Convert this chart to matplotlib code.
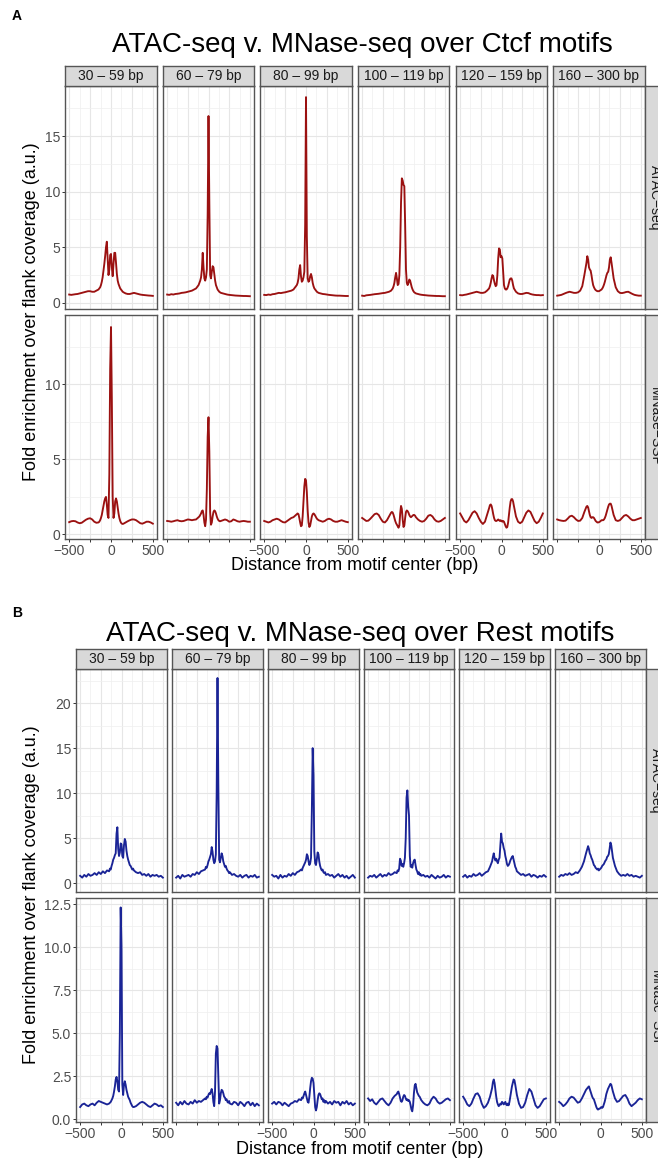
import numpy as np
import matplotlib.pyplot as plt

plt.rcParams['font.family'] = ['Liberation Sans', 'DejaVu Sans']

# ---- data -------------------------------------------------------------
POSITIONS = [-500, -475, -450, -425, -400, -375, -350, -325, -300, -275, -250, -225, -200, -175,
             -150, -140, -130, -120, -110, -100, -90, -80, -70, -60, -50, -40, -30, -20, -10,
             0, 10, 20, 30, 40, 50, 60, 70, 80, 90, 100, 110, 120, 130, 140, 150,
             175, 200, 225, 250, 275, 300, 325, 350, 375, 400, 425, 450, 475, 500]

SIZE_BINS = ["30 \u2013 59 bp", "60 \u2013 79 bp", "80 \u2013 99 bp",
             "100 \u2013 119 bp", "120 \u2013 159 bp", "160 \u2013 300 bp"]
ASSAYS = ["ATAC\u2212seq", "MNase\u2212SSP"]

# Ctcf, ATAC-seq
ctcf_atac_30_59 = [0.75, 0.72, 0.75, 0.78, 0.80, 0.85, 0.90, 0.95, 1.00, 1.05, 1.05, 1.00, 1.00, 1.10,
                   1.20, 1.30, 1.40, 1.60, 1.90, 2.30, 2.90, 3.50, 4.20, 5.00, 5.50, 4.00, 2.50, 3.00, 4.30,
                   4.40, 3.20, 2.40, 3.50, 4.50, 4.50, 3.60, 2.60, 2.00, 1.70, 1.50, 1.30, 1.20, 1.10, 1.00, 0.95,
                   0.85, 0.80, 0.80, 0.85, 0.90, 0.85, 0.80, 0.75, 0.72, 0.70, 0.68, 0.66, 0.65, 0.63]
ctcf_atac_60_79 = [0.75, 0.72, 0.78, 0.75, 0.80, 0.82, 0.85, 0.90, 0.92, 0.95, 1.00, 1.05, 1.10, 1.20,
                   1.30, 1.40, 1.50, 1.60, 1.80, 2.00, 2.30, 3.00, 4.50, 3.20, 2.20, 2.00, 2.30, 3.00, 8.00,
                   16.8, 9.00, 2.50, 2.20, 2.80, 3.30, 3.20, 2.60, 2.00, 1.60, 1.40, 1.20, 1.10, 1.00, 0.95, 0.90,
                   0.85, 0.80, 0.75, 0.72, 0.70, 0.68, 0.66, 0.65, 0.64, 0.63, 0.62, 0.62, 0.61, 0.60]
ctcf_atac_80_99 = [0.72, 0.70, 0.75, 0.72, 0.78, 0.80, 0.85, 0.90, 0.88, 0.92, 0.95, 1.00, 1.05, 1.10,
                   1.20, 1.30, 1.40, 1.50, 1.60, 1.80, 2.20, 3.00, 3.40, 2.40, 1.90, 2.00, 2.30, 2.80, 7.00,
                   18.5, 6.00, 2.20, 1.90, 2.00, 2.40, 2.60, 2.30, 1.80, 1.50, 1.30, 1.20, 1.10, 1.00, 0.95, 0.90,
                   0.85, 0.80, 0.78, 0.75, 0.72, 0.70, 0.68, 0.66, 0.65, 0.65, 0.64, 0.63, 0.62, 0.62]
ctcf_atac_100_119 = [0.65, 0.62, 0.68, 0.70, 0.72, 0.75, 0.78, 0.80, 0.82, 0.85, 0.88, 0.90, 0.95, 1.00,
                     1.10, 1.20, 1.30, 1.50, 1.80, 2.30, 2.70, 2.20, 1.60, 1.70, 2.50, 5.00, 9.00, 11.2, 11.0,
                     10.6, 10.5, 7.00, 3.00, 1.80, 1.60, 1.80, 2.10, 2.00, 1.70, 1.40, 1.20, 1.05, 0.95, 0.90, 0.85,
                     0.80, 0.75, 0.72, 0.70, 0.68, 0.66, 0.65, 0.64, 0.63, 0.62, 0.62, 0.61, 0.60, 0.60]
ctcf_atac_120_159 = [0.70, 0.68, 0.72, 0.75, 0.80, 0.85, 0.90, 0.95, 1.00, 0.95, 0.90, 0.90, 0.95, 1.10,
                     1.30, 1.50, 1.80, 2.20, 2.50, 2.40, 2.00, 1.70, 1.50, 1.60, 2.50, 4.00, 4.90, 4.80, 4.10,
                     4.20, 4.00, 2.80, 1.60, 1.30, 1.20, 1.20, 1.30, 1.50, 1.80, 2.10, 2.20, 2.20, 2.00, 1.60, 1.30,
                     1.00, 0.85, 0.80, 0.80, 0.85, 0.90, 0.88, 0.80, 0.75, 0.72, 0.70, 0.70, 0.68, 0.70]
ctcf_atac_160_300 = [0.65, 0.68, 0.72, 0.80, 0.88, 0.95, 1.00, 0.95, 0.90, 0.90, 0.95, 1.10, 1.50, 2.50,
                     3.60, 4.20, 3.90, 3.20, 3.00, 2.90, 2.50, 2.00, 1.60, 1.40, 1.25, 1.15, 1.10, 1.05, 1.05,
                     1.05, 1.10, 1.15, 1.20, 1.30, 1.45, 1.65, 1.90, 2.20, 2.50, 2.70, 2.80, 3.20, 3.90, 4.10, 3.60,
                     2.20, 1.40, 1.05, 0.90, 0.88, 0.92, 0.98, 1.00, 0.90, 0.80, 0.72, 0.68, 0.65, 0.65]

# Ctcf, MNase-SSP
ctcf_mnase_30_59 = [0.82, 0.88, 0.90, 0.88, 0.80, 0.75, 0.78, 0.88, 0.98, 1.05, 1.08, 1.00, 0.85, 0.78,
                    0.80, 0.85, 0.95, 1.10, 1.30, 1.60, 1.90, 2.20, 2.40, 2.50, 2.00, 1.30, 1.10, 4.00, 11.0,
                    13.8, 9.00, 2.50, 1.10, 1.40, 2.20, 2.40, 2.20, 1.80, 1.40, 1.10, 0.90, 0.78, 0.72, 0.70, 0.72,
                    0.80, 0.88, 0.95, 1.00, 1.00, 0.95, 0.85, 0.75, 0.72, 0.78, 0.85, 0.85, 0.80, 0.72]
ctcf_mnase_60_79 = [0.90, 0.88, 0.85, 0.88, 0.92, 0.95, 0.90, 0.88, 0.90, 0.95, 1.00, 0.98, 0.95, 0.98,
                    1.00, 1.05, 1.10, 1.15, 1.20, 1.30, 1.40, 1.55, 1.60, 1.30, 0.80, 0.55, 1.00, 3.00, 6.50,
                    7.80, 5.50, 1.50, 0.65, 0.80, 1.20, 1.50, 1.60, 1.55, 1.40, 1.20, 1.05, 0.95, 0.90, 0.88, 0.90,
                    0.95, 1.00, 0.95, 0.85, 0.88, 1.00, 0.95, 0.88, 0.85, 0.88, 0.90, 0.88, 0.85, 0.85]
ctcf_mnase_80_99 = [0.90, 0.85, 0.80, 0.85, 0.95, 1.00, 1.05, 1.00, 0.90, 0.82, 0.80, 0.90, 1.00, 1.10,
                    1.15, 1.20, 1.25, 1.30, 1.35, 1.40, 1.35, 1.10, 0.80, 0.55, 0.60, 1.20, 2.20, 3.20, 3.70,
                    3.60, 2.80, 1.60, 0.80, 0.50, 0.60, 0.90, 1.20, 1.35, 1.40, 1.35, 1.25, 1.15, 1.05, 1.00, 0.95,
                    0.90, 0.85, 0.90, 1.00, 1.05, 1.00, 0.90, 0.85, 0.85, 0.90, 0.95, 0.90, 0.85, 0.82]
ctcf_mnase_100_119 = [1.10, 1.00, 0.90, 0.92, 1.05, 1.20, 1.35, 1.40, 1.30, 1.05, 0.85, 0.80, 0.95, 1.20,
                      1.45, 1.50, 1.45, 1.30, 1.10, 0.90, 0.75, 0.65, 0.55, 0.45, 0.60, 1.40, 1.90, 1.70, 1.00,
                      0.50, 0.60, 1.10, 1.50, 1.60, 1.55, 1.45, 1.30, 1.20, 1.15, 1.20, 1.25, 1.30, 1.30, 1.25, 1.15,
                      1.00, 0.90, 0.85, 0.90, 1.05, 1.25, 1.30, 1.20, 1.00, 0.88, 0.85, 0.90, 1.00, 1.10]
ctcf_mnase_120_159 = [1.40, 1.15, 0.90, 0.80, 0.95, 1.20, 1.45, 1.55, 1.40, 1.10, 0.85, 0.70, 0.85, 1.30,
                      1.75, 1.95, 2.00, 1.90, 1.65, 1.35, 1.10, 0.95, 0.90, 0.90, 0.95, 1.00, 0.95, 0.90, 0.95,
                      0.90, 0.85, 0.90, 0.85, 0.70, 0.55, 0.45, 0.50, 0.80, 1.30, 1.80, 2.20, 2.35, 2.35, 2.20, 1.90,
                      1.20, 0.85, 0.75, 0.85, 1.15, 1.45, 1.60, 1.50, 1.20, 0.90, 0.75, 0.85, 1.10, 1.40]
ctcf_mnase_160_300 = [1.00, 0.95, 0.92, 0.90, 0.92, 1.05, 1.20, 1.25, 1.15, 1.00, 0.90, 0.92, 1.10, 1.50,
                      1.85, 1.90, 1.80, 1.55, 1.30, 1.15, 1.10, 1.15, 1.15, 1.10, 1.00, 0.90, 0.85, 0.80, 0.80,
                      0.82, 0.85, 0.90, 0.95, 0.95, 0.95, 1.00, 1.10, 1.25, 1.45, 1.65, 1.85, 2.00, 2.05, 2.05, 1.90,
                      1.30, 0.95, 0.90, 0.95, 1.10, 1.25, 1.30, 1.20, 1.05, 0.95, 0.95, 1.00, 1.05, 1.10]

# Rest, ATAC-seq
rest_atac_30_59 = [0.80, 0.60, 0.90, 0.70, 1.00, 0.80, 0.90, 1.10, 0.90, 1.20, 1.00, 1.30, 1.10, 1.40,
                   1.30, 1.60, 1.50, 1.90, 2.20, 2.60, 2.80, 3.10, 3.30, 5.50, 6.20, 3.80, 3.00, 3.40, 4.40,
                   4.30, 3.00, 2.80, 4.20, 4.90, 4.60, 3.60, 3.00, 2.60, 2.30, 2.00, 1.90, 1.70, 1.50, 1.60, 1.40,
                   1.20, 1.10, 1.20, 0.90, 1.00, 0.80, 1.00, 0.70, 0.90, 0.80, 0.90, 0.70, 0.80, 0.60]
rest_atac_60_79 = [0.60, 0.80, 0.50, 0.90, 0.70, 0.80, 0.90, 0.70, 1.00, 0.90, 1.20, 1.00, 1.30, 1.40,
                   1.50, 1.80, 1.70, 2.00, 2.40, 2.60, 2.90, 3.20, 4.00, 3.50, 2.60, 2.20, 2.40, 3.20, 10.0,
                   22.8, 11.0, 2.60, 2.30, 2.80, 3.30, 3.00, 2.40, 2.10, 1.80, 1.90, 1.60, 1.40, 1.30, 1.10, 1.20,
                   0.90, 1.00, 0.80, 0.70, 0.90, 0.60, 0.80, 0.90, 0.60, 0.80, 0.70, 0.90, 0.60, 0.70]
rest_atac_80_99 = [0.90, 0.70, 0.80, 0.50, 0.90, 0.60, 0.80, 0.70, 1.00, 0.80, 1.10, 0.90, 1.20, 1.30,
                   1.50, 1.40, 1.70, 1.90, 2.10, 2.30, 2.60, 3.20, 3.00, 2.40, 2.00, 2.20, 2.80, 8.00, 15.0,
                   12.0, 3.50, 2.20, 2.00, 2.60, 3.40, 3.20, 2.40, 1.90, 1.60, 1.40, 1.50, 1.20, 1.10, 1.20, 0.90,
                   1.00, 0.80, 0.90, 0.60, 0.80, 1.00, 0.70, 0.90, 0.60, 0.80, 0.50, 0.70, 0.90, 0.60]
rest_atac_100_119 = [0.60, 0.80, 0.70, 0.90, 0.60, 0.80, 1.00, 0.70, 0.90, 0.80, 1.10, 0.90, 1.00, 1.20,
                     1.10, 1.40, 1.30, 1.60, 2.70, 2.50, 1.90, 2.10, 1.80, 2.20, 2.80, 5.00, 9.50, 10.3, 8.50,
                     7.50, 3.00, 1.80, 2.00, 1.70, 2.20, 2.50, 2.60, 2.00, 1.50, 1.30, 1.00, 1.20, 0.90, 1.00, 0.80,
                     0.90, 0.70, 0.80, 0.60, 0.90, 0.70, 0.50, 0.80, 0.60, 0.70, 0.90, 0.60, 0.80, 0.70]
rest_atac_120_159 = [0.70, 0.90, 0.60, 0.80, 0.70, 1.00, 0.80, 0.90, 1.10, 0.80, 1.00, 1.20, 1.30, 1.80,
                     2.40, 2.90, 3.30, 2.80, 2.50, 2.70, 2.40, 2.20, 2.60, 2.80, 4.20, 5.50, 4.60, 4.40, 3.90,
                     3.60, 3.00, 2.60, 2.10, 1.90, 2.00, 2.20, 2.50, 2.70, 2.90, 3.00, 2.60, 2.20, 1.80, 1.60, 1.30,
                     1.10, 0.90, 1.00, 0.80, 0.90, 1.00, 0.70, 0.90, 0.80, 0.60, 0.80, 0.70, 0.90, 0.70]
rest_atac_160_300 = [0.70, 0.90, 0.80, 1.00, 0.90, 1.10, 0.90, 1.00, 1.20, 1.10, 1.40, 1.80, 2.40, 3.30,
                     4.10, 3.80, 3.30, 3.10, 2.80, 2.60, 2.30, 2.00, 1.90, 1.70, 1.60, 1.50, 1.60, 1.40, 1.50,
                     1.60, 1.70, 1.90, 2.00, 2.10, 2.30, 2.50, 2.60, 2.90, 3.00, 3.20, 3.80, 4.50, 4.20, 3.50, 2.80,
                     1.90, 1.30, 1.00, 0.80, 0.90, 0.80, 1.00, 0.80, 0.90, 0.70, 0.80, 0.70, 0.60, 0.80]

# Rest, MNase-SSP
rest_mnase_30_59 = [0.70, 0.85, 0.90, 0.80, 0.75, 0.85, 0.90, 0.80, 0.95, 1.05, 1.00, 0.95, 0.90, 0.85,
                    0.90, 0.95, 1.00, 1.10, 1.20, 1.35, 1.60, 1.90, 2.30, 2.45, 2.20, 1.70, 1.60, 5.00, 12.3,
                    10.0, 2.00, 1.40, 2.00, 2.20, 2.00, 1.70, 1.50, 1.30, 1.20, 1.10, 0.95, 0.85, 0.75, 0.70, 0.70,
                    0.75, 0.85, 0.95, 1.00, 0.95, 0.85, 0.75, 0.70, 0.80, 0.90, 0.85, 0.75, 0.80, 0.70]
rest_mnase_60_79 = [0.95, 0.80, 1.00, 0.85, 1.05, 0.90, 0.85, 1.00, 0.90, 1.10, 0.95, 1.05, 1.00, 1.10,
                    1.20, 1.15, 1.30, 1.25, 1.40, 1.50, 1.45, 1.60, 1.75, 1.50, 1.00, 0.75, 1.60, 3.80, 4.25,
                    4.10, 2.50, 0.90, 1.10, 1.50, 1.70, 1.65, 1.50, 1.30, 1.25, 1.10, 1.15, 1.00, 0.95, 1.05, 0.90,
                    0.85, 1.00, 0.95, 0.80, 1.00, 0.90, 0.75, 0.95, 1.00, 0.80, 0.95, 0.75, 0.90, 0.80]
rest_mnase_80_99 = [0.90, 1.00, 0.85, 1.00, 0.95, 0.80, 0.95, 0.85, 0.75, 0.90, 0.95, 1.05, 1.00, 1.15,
                    1.10, 1.25, 1.20, 1.35, 1.50, 1.60, 1.40, 1.20, 1.00, 0.95, 1.30, 1.80, 2.20, 2.40, 2.35,
                    2.10, 1.40, 0.70, 0.50, 0.70, 1.10, 1.40, 1.50, 1.45, 1.30, 1.15, 1.20, 1.00, 1.10, 0.95, 1.05,
                    0.90, 1.00, 0.85, 1.05, 0.95, 1.00, 0.80, 1.00, 0.90, 1.05, 0.85, 0.95, 0.80, 0.90]
rest_mnase_100_119 = [1.20, 1.05, 1.15, 0.95, 0.85, 1.00, 1.15, 1.20, 1.05, 0.90, 0.80, 0.95, 1.20, 1.35,
                      1.45, 1.55, 1.60, 1.45, 1.25, 1.05, 1.00, 1.10, 1.30, 1.40, 1.35, 1.20, 1.10, 1.15, 1.05,
                      1.10, 1.00, 0.80, 0.55, 0.45, 0.80, 1.50, 1.95, 2.05, 1.80, 1.55, 1.45, 1.35, 1.30, 1.20, 1.10,
                      0.95, 0.85, 0.80, 0.90, 1.15, 1.30, 1.20, 1.00, 0.90, 0.95, 1.05, 1.15, 1.20, 1.10]
rest_mnase_120_159 = [1.30, 1.10, 0.85, 0.75, 0.90, 1.20, 1.45, 1.50, 1.30, 0.90, 0.65, 0.75, 0.95, 1.30,
                      1.80, 2.15, 2.30, 2.10, 1.70, 1.30, 1.00, 0.85, 0.75, 0.80, 0.90, 0.85, 1.00, 0.95, 0.85,
                      0.90, 1.00, 0.85, 0.80, 0.90, 0.80, 1.00, 1.30, 1.60, 1.90, 2.10, 2.30, 2.25, 2.00, 1.70, 1.40,
                      0.90, 0.65, 0.70, 0.95, 1.40, 1.75, 1.60, 1.20, 0.80, 0.65, 0.75, 0.95, 1.15, 1.20]
rest_mnase_160_300 = [1.00, 0.90, 0.75, 0.85, 1.00, 1.20, 1.30, 1.25, 1.10, 0.95, 1.00, 1.20, 1.45, 1.70,
                      1.85, 1.90, 1.75, 1.60, 1.45, 1.30, 1.20, 1.15, 1.00, 0.85, 0.70, 0.60, 0.55, 0.60, 0.60,
                      0.65, 0.70, 0.65, 0.70, 0.85, 1.00, 1.20, 1.45, 1.60, 1.75, 1.85, 1.95, 2.05, 2.00, 1.80, 1.60,
                      1.20, 1.00, 1.05, 1.20, 1.35, 1.40, 1.20, 0.90, 0.75, 0.85, 0.95, 1.10, 1.20, 1.15]

ctcf = [[ctcf_atac_30_59, ctcf_atac_60_79, ctcf_atac_80_99,
         ctcf_atac_100_119, ctcf_atac_120_159, ctcf_atac_160_300],
        [ctcf_mnase_30_59, ctcf_mnase_60_79, ctcf_mnase_80_99,
         ctcf_mnase_100_119, ctcf_mnase_120_159, ctcf_mnase_160_300]]
rest = [[rest_atac_30_59, rest_atac_60_79, rest_atac_80_99,
         rest_atac_100_119, rest_atac_120_159, rest_atac_160_300],
        [rest_mnase_30_59, rest_mnase_60_79, rest_mnase_80_99,
         rest_mnase_100_119, rest_mnase_120_159, rest_mnase_160_300]]

X_MAJOR = [-500, -250, 0, 250, 500]
X_MINOR = [-375, -125, 125, 375]
X_LABELS_FULL = ["\u2212500", "", "0", "", "500"]
X_LABELS_LAST = ["", "", "0", "", "500"]
X_LABELS_NONE = ["", "", "", "", ""]
X_LABELS = [X_LABELS_FULL, X_LABELS_NONE, X_LABELS_FULL, X_LABELS_NONE, X_LABELS_FULL, X_LABELS_LAST]

# ---- layout -----------------------------------------------------------
W, H = 658, 1161
fig = plt.figure(figsize=(W / 100, H / 100), dpi=100)

BORDER = '#555555'
GRID = '#e6e6e6'


def px_axes(x0, y0, x1, y1):
    return fig.add_axes([x0 / W, 1 - y1 / H, (x1 - x0) / W, (y1 - y0) / H])


def fig_text(x, y, s, **kw):
    fig.text(x / W, 1 - y / H, s, **kw)


def strip(ax, label, rot):
    ax.set_facecolor('#d9d9d9')
    ax.set_xticks([])
    ax.set_yticks([])
    for sp in ax.spines.values():
        sp.set_color(BORDER)
        sp.set_linewidth(1.0)
    ax.text(0.5, 0.5, label, rotation=rot, ha='center', va='center',
            fontsize=10, color='#1a1a1a', transform=ax.transAxes)


def facet_block(series, color, cols, rows, strip_top, ylims, ymaj, ymin, ylabs):
    for r in range(2):
        y0, y1 = rows[r]
        for c in range(6):
            x0, x1 = cols[c]
            ax = px_axes(x0, y0, x1, y1)
            ax.plot(POSITIONS, series[r][c], color=color, lw=1.35, solid_joinstyle='round')
            ax.set_xlim(-550, 550)
            ax.set_ylim(*ylims[r])
            ax.set_xticks(X_MAJOR)
            ax.set_xticks(X_MINOR, minor=True)
            ax.set_yticks(ymaj[r])
            ax.set_yticks(ymin[r], minor=True)
            ax.grid(which='major', color=GRID, lw=0.8)
            ax.grid(which='minor', color='#efefef', lw=0.5)
            ax.set_axisbelow(True)
            ax.tick_params(which='minor', length=0)
            ax.tick_params(which='major', length=2.5, width=0.7, color='#333333',
                           labelsize=10, labelcolor='#4d4d4d', pad=1)
            for sp in ax.spines.values():
                sp.set_color(BORDER)
                sp.set_linewidth(1.0)
            if c == 0:
                ax.set_yticklabels(ylabs[r])
            else:
                ax.tick_params(axis='y', length=0, labelleft=False)
            if r == 1:
                ax.set_xticklabels(X_LABELS[c])
            else:
                ax.tick_params(axis='x', length=0, labelbottom=False)
            if r == 0:
                strip(px_axes(x0, strip_top, x1, y0), SIZE_BINS[c], 0)
        strip(px_axes(cols[5][1], y0, cols[5][1] + 20, y1), ASSAYS[r], 270)


# panel A: Ctcf
cols_a = [(65, 157), (163, 254), (260, 352), (358, 449), (456, 547), (553, 645)]
rows_a = [(86, 309), (315, 539)]
facet_block(ctcf, '#9b1111', cols_a, rows_a, 66,
            [(-0.55, 19.5), (-0.3, 14.6)],
            [[0, 5, 10, 15], [0, 5, 10]],
            [[2.5, 7.5, 12.5, 17.5], [2.5, 7.5, 12.5]],
            [["0", "5", "10", "15"], ["0", "5", "10"]])
fig_text(12, 16, "A", fontsize=10, fontweight='bold', va='center')
fig_text(362, 52, "ATAC-seq v. MNase-seq over Ctcf motifs", fontsize=20, ha='center', va='baseline')
fig_text(355, 570, "Distance from motif center (bp)", fontsize=13, ha='center', va='baseline')
fig_text(32, 312, "Fold enrichment over flank coverage (a.u.)", fontsize=13,
         rotation=90, ha='center', va='center')

# panel B: Rest
cols_b = [(76, 167), (172, 263), (268, 359), (364, 454), (459, 550), (555, 646)]
rows_b = [(669, 892), (898, 1122)]
facet_block(rest, '#1a2496', cols_b, rows_b, 649,
            [(-1.0, 23.8), (-0.17, 12.85)],
            [[0, 5, 10, 15, 20], [0, 2.5, 5, 7.5, 10, 12.5]],
            [[2.5, 7.5, 12.5, 17.5, 22.5], [1.25, 3.75, 6.25, 8.75, 11.25]],
            [["0", "5", "10", "15", "20"], ["0.0", "2.5", "5.0", "7.5", "10.0", "12.5"]])
fig_text(12, 613, "B", fontsize=10, fontweight='bold', va='center')
fig_text(360, 641, "ATAC-seq v. MNase-seq over Rest motifs", fontsize=20, ha='center', va='baseline')
fig_text(360, 1154, "Distance from motif center (bp)", fontsize=13, ha='center', va='baseline')
fig_text(32, 895, "Fold enrichment over flank coverage (a.u.)", fontsize=13,
         rotation=90, ha='center', va='center')

fig.savefig("out.png", dpi=100)
